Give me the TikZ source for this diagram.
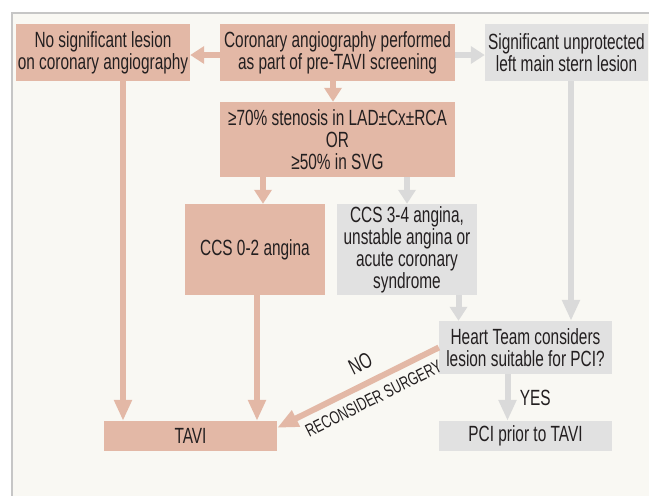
\documentclass[tikz,border=0pt]{standalone}
\usepackage{fontspec}
\setmainfont{Liberation Sans}[FakeStretch=0.7]
\usetikzlibrary{arrows.meta}
\definecolor{salmon}{HTML}{E3B8A6}
\definecolor{greybox}{HTML}{E1E1E1}
\definecolor{greyarrow}{HTML}{DADADA}
\definecolor{paper}{HTML}{F9F8F3}
\definecolor{rim}{HTML}{C6C6C6}
\definecolor{ink}{HTML}{231F20}

\begin{document}
\begin{tikzpicture}[x=1pt,y=-1pt,font=\fontsize{22}{22}\selectfont,text=ink]
		\tikzstyle{pinkbox}=[rectangle,fill=salmon,align=center,inner sep=0]
		\tikzstyle{greybox}=[rectangle,fill=greybox,align=center,inner sep=0]
		\tikzstyle{pinkflow}=[draw=salmon,line width=6pt,-{Triangle[width=17pt,length=14pt]}]
		\tikzstyle{greyflow}=[draw=greyarrow,line width=6pt,-{Triangle[width=17pt,length=14pt]}]
		\tikzstyle{longhead}=[-{Triangle[width=17pt,length=21pt]}]

		\useasboundingbox (0,0) rectangle (649,496);
		\fill[paper] (12,13) rectangle (649,496);
		\draw[rim,line width=1.5pt] (12,496) -- (12,13) -- (649,13);

		% first row
		\node[pinkbox,minimum width=174pt,minimum height=57pt] (nosig) at (103,52.5)
			{No significant lesion\\on coronary angiography};
		\node[pinkbox,minimum width=235pt,minimum height=57pt] (angio) at (337.5,52.5)
			{Coronary angiography performed\\as part of pre-TAVI screening};
		\node[greybox,minimum width=163pt,minimum height=57pt] (leftmain) at (566.5,52.5)
			{Significant unprotected\\left main stern lesion};

		% stenosis and angina
		\node[pinkbox,minimum width=235pt,minimum height=75pt] (stenosis) at (337.5,139.5)
			{≥70\% stenosis in LAD±Cx±RCA\\OR\\≥50\% in SVG};
		\node[pinkbox,minimum width=140pt,minimum height=91pt] (stable) at (255,249.5)
			{CCS 0-2 angina};
		\node[greybox,minimum width=140pt,minimum height=91pt] (unstable) at (407,249.5)
			{CCS 3-4 angina,\\unstable angina or\\acute coronary\\syndrome};

		% decision and outcomes
		\node[greybox,minimum width=173pt,minimum height=53pt] (team) at (525.5,347.5)
			{Heart Team considers\\lesion suitable for PCI?};
		\node[greybox,minimum width=173pt,minimum height=30pt] (pci) at (525.5,436)
			{PCI prior to TAVI};
		\node[pinkbox,minimum width=173pt,minimum height=30pt] (tavi) at (190.5,436)
			{TAVI};

		\draw[pinkflow] ([yshift=-2.5pt]angio.west) -- ([yshift=-2.5pt]nosig.east);
		\draw[greyflow] ([yshift=-2.5pt]angio.east) -- ([yshift=-2.5pt]leftmain.west);
		\draw[pinkflow] ([xshift=-4.5pt]angio.south) -- ([xshift=-4.5pt]stenosis.north);
		\draw[pinkflow] ([xshift=8pt]stable.north |- stenosis.south) -- ([xshift=8pt]stable.north);
		\draw[greyflow] (unstable.north |- stenosis.south) -- (unstable.north);
		\draw[pinkflow,longhead] ([xshift=20pt]nosig.south) -- ([xshift=20pt]nosig.south |- tavi.north);
		\draw[pinkflow,longhead] ([xshift=2pt]stable.south) -- ([xshift=2pt]stable.south |- tavi.north);
		\draw[greyflow] ([xshift=-67pt]team.north |- unstable.south) -- ([xshift=-67pt]team.north);
		\draw[greyflow,longhead] ([xshift=4.5pt]leftmain.south) -- ([xshift=4.5pt]leftmain.south |- team.north);
		\draw[greyflow,longhead] ([xshift=-18pt]team.south) -- ([xshift=-18pt]pci.north)
			node[midway,anchor=west,xshift=6pt] {YES};
		\draw[pinkflow,longhead] (team.west) -- ([yshift=-7pt]tavi.north east)
			node[pos=0.43,sloped,above=6pt,font=\fontsize{22}{22}\selectfont] {NO}
			node[pos=0.45,sloped,below=4pt,font=\fontsize{18}{18}\selectfont] {RECONSIDER SURGERY};
	\end{tikzpicture}
\end{document}
